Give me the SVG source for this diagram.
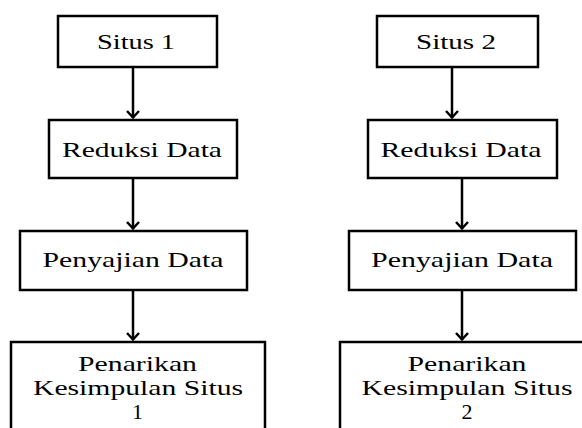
<svg xmlns="http://www.w3.org/2000/svg" width="582" height="428" viewBox="0 0 582 428">
<style>
.box{fill:#fff;stroke:#000;stroke-width:2.5}
.t{font-size:22px;fill:#000;text-anchor:middle}
.ln{stroke:#000;stroke-width:2.5;fill:none}
</style>
<defs>
<marker id="ah" markerUnits="userSpaceOnUse" viewBox="-10 -10 20 20" refX="0" refY="0" markerWidth="20" markerHeight="20" orient="auto">
<path d="M-7,-6 L-0.5,0 L-7,6" fill="none" stroke="#000" stroke-width="2.5"/>
</marker>
</defs>
<rect width="582" height="428" fill="#fff"/>
<g id="connectors">
<line class="ln" x1="133" y1="67" x2="133" y2="118" marker-end="url(#ah)"/>
<line class="ln" x1="133" y1="178" x2="133" y2="229" marker-end="url(#ah)"/>
<line class="ln" x1="133" y1="290" x2="133" y2="340" marker-end="url(#ah)"/>
<line class="ln" x1="452" y1="67" x2="452" y2="118" marker-end="url(#ah)"/>
<line class="ln" x1="462" y1="178" x2="462" y2="229" marker-end="url(#ah)"/>
<line class="ln" x1="462" y1="290" x2="462" y2="340" marker-end="url(#ah)"/>
</g>
<g font-family="Liberation Serif, Tinos, DejaVu Serif, serif">
<g id="situs1">
<rect class="box" x="58" y="16" width="159" height="51"/>
<text class="t" x="136" y="49" textLength="78" lengthAdjust="spacingAndGlyphs">Situs 1</text>
</g>
<g id="reduksi1">
<rect class="box" x="49" y="120" width="188" height="58"/>
<text class="t" x="142" y="157" textLength="160" lengthAdjust="spacingAndGlyphs">Reduksi Data</text>
</g>
<g id="penyajian1">
<rect class="box" x="20" y="231" width="227" height="59"/>
<text class="t" x="133" y="267" textLength="181" lengthAdjust="spacingAndGlyphs">Penyajian Data</text>
</g>
<g id="penarikan1">
<rect class="box" x="11" y="342" width="254" height="100"/>
<text class="t" x="137.5" y="371" textLength="119" lengthAdjust="spacingAndGlyphs">Penarikan</text>
<text class="t" x="138" y="395" textLength="210" lengthAdjust="spacingAndGlyphs">Kesimpulan Situs</text>
<text class="t" x="137.5" y="419">1</text>
</g>
<g id="situs2">
<rect class="box" x="377" y="16" width="161" height="51"/>
<text class="t" x="456" y="49" textLength="80" lengthAdjust="spacingAndGlyphs">Situs 2</text>
</g>
<g id="reduksi2">
<rect class="box" x="368" y="120" width="189" height="58"/>
<text class="t" x="461" y="157" textLength="161" lengthAdjust="spacingAndGlyphs">Reduksi Data</text>
</g>
<g id="penyajian2">
<rect class="box" x="349" y="231" width="227" height="59"/>
<text class="t" x="462" y="267" textLength="182" lengthAdjust="spacingAndGlyphs">Penyajian Data</text>
</g>
<g id="penarikan2">
<rect class="box" x="340" y="342" width="260" height="100"/>
<text class="t" x="467" y="371" textLength="119" lengthAdjust="spacingAndGlyphs">Penarikan</text>
<text class="t" x="467" y="395" textLength="211" lengthAdjust="spacingAndGlyphs">Kesimpulan Situs</text>
<text class="t" x="467" y="419">2</text>
</g>
</g>
</svg>
